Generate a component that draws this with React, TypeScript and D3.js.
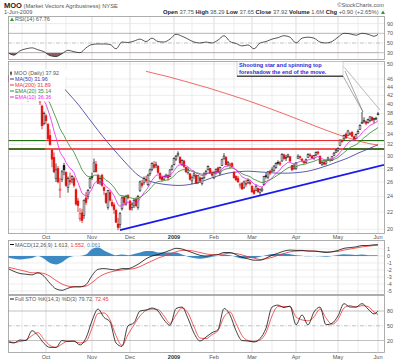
import React from "react";
import * as d3 from "d3";

// ---------- DATA ----------
// trading days: index 0 = 4-Sep-2008 ... index 185 = 1-Jun-2009
const monthTicks = [
  { day: 19, label: "Oct", bold: false },
  { day: 42, label: "Nov", bold: false },
  { day: 61, label: "Dec", bold: false },
  { day: 83, label: "2009", bold: true },
  { day: 103, label: "Feb", bold: false },
  { day: 122, label: "Mar", bold: false },
  { day: 144, label: "Apr", bold: false },
  { day: 165, label: "May", bold: false },
  { day: 185, label: "Jun", bold: false },
];
const midMonthDays = [7, 29, 52, 71, 92, 113, 132, 153, 175];

const opens = [
  46.8, 45.0, 47.0, 46.6, 45.0, 44.6, 45.5, 45.2, 42.5, 43.4, 41.5, 45.5, 45.4, 44.0, 42.2, 41.5, 41.0, 39.6, 36.0,
  37.5, 35.8, 33.6, 31.0, 29.8, 26.5, 28.0, 24.8, 26.4, 28.5, 27.4, 25.2, 26.2, 26.4, 26.5, 24.9, 23.4, 21.2, 21.9, 21.6, 23.8, 24.0, 25.2,
  26.8, 27.6, 28.7, 27.0, 26.0, 27.0, 25.2, 24.4, 22.6, 24.5, 23.2, 22.9, 22.2, 20.6, 20.5, 22.4, 23.9, 23.0, 24.1,
  23.4, 22.6, 22.8, 23.6, 22.6, 24.8, 25.8, 25.9, 26.4, 25.6, 27.2, 27.9, 28.6, 28.5, 28.4, 27.3, 26.7, 26.4, 26.8, 27.0, 26.8, 27.9,
  28.6, 29.5, 30.2, 29.8, 28.6, 29.2, 28.2, 27.4, 27.2, 26.2, 26.9, 27.0, 25.9, 26.6, 25.8, 26.6, 27.3, 27.9, 28.0, 27.4,
  26.6, 27.5, 28.1, 27.3, 28.5, 29.6, 29.8, 28.7, 28.5, 28.8, 27.4, 26.8, 26.5, 25.5, 25.8, 25.2, 25.8, 25.9, 25.9,
  25.4, 24.8, 24.8, 25.1, 24.5, 24.8, 25.6, 26.9, 26.7, 27.6, 27.6, 27.7, 28.2, 29.0, 28.9, 29.2, 30.2, 29.7, 29.9, 29.9, 28.5, 28.0,
  28.0, 29.6, 29.9, 29.5, 29.1, 29.0, 29.8, 30.2, 30.0, 29.6, 30.2, 30.7, 30.0, 28.7, 29.0, 28.8, 29.4, 29.3, 29.3, 30.1, 30.6,
  31.0, 31.8, 32.7, 33.0, 33.9, 33.6, 34.0, 34.2, 33.4, 33.1, 34.0, 34.8, 36.0, 36.4, 36.3, 36.2, 36.5, 37.2, 36.7, 37.0, 37.75,
];
const highs = [
  47.2, 46.5, 47.8, 46.9, 45.8, 46.2, 46.8, 45.6, 44.2, 43.6, 43.8, 46.5, 45.6, 44.3, 42.6, 42.5, 41.5, 39.9, 38.4,
  37.8, 36.0, 34.8, 31.2, 30.6, 28.8, 28.4, 26.6, 27.8, 28.9, 27.6, 26.8, 27.4, 27.0, 26.8, 25.1, 23.8, 22.5, 22.4, 23.6, 24.6, 25.0, 26.7,
  27.4, 29.6, 29.2, 27.2, 26.7, 27.2, 25.4, 24.5, 24.9, 24.8, 23.6, 23.2, 22.4, 21.3, 22.0, 24.0, 24.1, 24.2, 24.3,
  23.5, 23.2, 23.7, 23.9, 24.2, 26.2, 26.3, 26.8, 26.9, 27.2, 28.0, 29.0, 29.2, 29.1, 28.5, 27.4, 26.9, 26.9, 27.2, 27.1, 27.9, 28.6,
  29.8, 30.2, 30.8, 30.0, 29.5, 29.4, 28.3, 28.2, 27.3, 26.9, 27.5, 27.1, 27.0, 26.8, 26.7, 27.4, 27.8, 28.5, 28.1, 27.7,
  27.6, 28.0, 28.3, 28.3, 29.6, 30.5, 30.0, 29.2, 28.9, 29.0, 27.6, 27.0, 26.9, 25.9, 26.0, 26.2, 26.3, 26.5, 26.3,
  25.5, 25.1, 25.6, 25.2, 25.1, 25.3, 26.9, 27.3, 27.6, 27.8, 28.2, 28.5, 29.0, 29.3, 29.2, 30.5, 30.4, 30.2, 30.4, 30.0, 28.6, 28.8,
  29.0, 30.3, 30.1, 29.7, 29.3, 29.6, 30.5, 30.5, 30.2, 30.2, 30.8, 30.9, 30.1, 29.2, 29.4, 29.3, 29.9, 29.6, 30.0, 30.7, 31.2,
  31.5, 32.9, 33.0, 33.8, 34.2, 34.7, 34.3, 34.5, 33.6, 34.0, 34.8, 35.8, 38.3, 37.2, 36.5, 36.9, 37.4, 37.4, 37.1, 37.3, 38.29,
];
const lows = [
  45.2, 44.6, 46.2, 44.5, 44.2, 44.0, 45.1, 43.0, 42.0, 40.8, 40.5, 44.6, 43.6, 41.8, 40.9, 41.0, 39.8, 34.8, 35.6,
  35.8, 32.8, 31.8, 28.2, 27.3, 26.0, 25.8, 23.8, 26.0, 27.0, 25.3, 24.5, 25.6, 25.8, 25.2, 22.8, 22.0, 20.9, 20.7, 21.2, 22.9, 23.6, 25.0,
  26.3, 27.4, 27.4, 25.7, 25.6, 25.3, 24.2, 23.0, 22.3, 23.3, 22.6, 21.8, 20.7, 19.9, 20.1, 22.2, 22.8, 22.8, 23.6,
  22.2, 22.2, 22.5, 22.6, 22.3, 24.6, 25.2, 25.6, 25.9, 25.4, 26.9, 27.6, 28.0, 28.1, 27.2, 26.3, 26.1, 26.3, 26.6, 26.2, 26.7, 27.7,
  28.5, 29.2, 29.9, 28.7, 28.4, 28.1, 27.3, 27.1, 26.2, 25.7, 26.5, 25.7, 25.7, 25.9, 25.5, 26.4, 27.0, 27.7, 27.2, 26.8,
  26.4, 27.1, 27.4, 27.0, 28.4, 29.4, 28.5, 28.3, 28.0, 28.1, 26.5, 26.1, 25.9, 25.1, 24.9, 25.0, 25.3, 25.7, 25.5,
  24.5, 24.2, 24.7, 24.5, 24.2, 24.6, 25.5, 26.5, 26.4, 27.0, 27.5, 27.5, 28.0, 28.6, 28.4, 29.1, 29.4, 29.2, 29.7, 29.0, 27.6, 27.8,
  27.8, 29.5, 29.4, 29.0, 28.7, 28.8, 29.7, 29.8, 29.5, 29.4, 30.0, 30.2, 28.7, 28.4, 28.5, 28.5, 29.2, 29.0, 29.2, 30.0, 30.5,
  30.7, 31.7, 32.3, 32.8, 33.0, 33.5, 33.6, 33.3, 32.8, 33.0, 33.9, 34.7, 35.9, 36.0, 35.6, 35.9, 36.2, 36.4, 36.0, 36.6, 37.65,
];
const closes = [
  45.5, 46.2, 47.0, 44.8, 45.3, 45.9, 46.5, 43.2, 43.8, 41.0, 43.5, 45.8, 43.9, 42.0, 41.2, 41.8, 40.5, 35.5, 38.0,
  36.5, 33.0, 32.0, 29.5, 27.5, 27.8, 26.0, 25.0, 27.5, 27.8, 25.5, 26.5, 26.0, 26.8, 25.5, 23.0, 22.8, 21.8, 21.0, 23.5, 23.2, 24.8, 26.5,
  26.8, 28.9, 27.5, 25.8, 26.5, 25.5, 24.8, 23.2, 24.8, 23.5, 22.8, 22.3, 20.8, 20.2, 21.8, 23.8, 23.2, 24.0, 23.8,
  22.3, 23.0, 23.5, 22.8, 24.0, 26.0, 25.5, 26.5, 26.2, 27.0, 27.8, 28.8, 28.2, 28.6, 27.4, 26.5, 26.3, 26.8, 27.0, 26.6, 27.8, 28.4,
  29.6, 30.0, 30.4, 28.9, 29.3, 28.3, 27.5, 27.8, 26.4, 26.6, 27.2, 25.8, 26.9, 26.2, 26.5, 27.2, 27.6, 28.3, 27.3, 27.0,
  27.4, 27.9, 27.5, 28.2, 29.4, 30.0, 28.6, 29.0, 28.7, 28.3, 26.6, 26.3, 26.0, 25.6, 25.0, 26.0, 25.7, 26.2, 25.8,
  24.6, 24.4, 25.4, 24.6, 24.9, 25.0, 26.8, 26.9, 27.5, 27.3, 27.8, 28.4, 28.8, 29.0, 28.7, 30.3, 29.6, 29.8, 30.2, 29.2, 27.8, 28.4,
  28.9, 30.0, 29.8, 29.3, 28.9, 29.4, 30.3, 30.1, 29.7, 30.1, 30.6, 30.5, 28.8, 29.0, 28.7, 29.2, 29.7, 29.4, 29.9, 30.5, 30.9,
  31.3, 32.8, 32.5, 33.6, 33.2, 34.5, 33.9, 33.5, 33.0, 33.8, 34.4, 35.6, 36.2, 36.6, 36.0, 36.8, 37.3, 36.6, 37.0, 37.02, 37.92,
];

const ma50Days = [20, 25, 30, 35, 40, 45, 50, 55, 60, 65, 70, 75, 80, 85, 90, 95, 100, 105, 110, 115, 120, 125, 130, 135, 140, 145, 150, 155, 160, 165, 170, 175, 180, 185];
const ma50Vals = [47.5, 45.2, 42.6, 40.0, 37.2, 34.6, 32.3, 30.3, 28.5, 27.0, 26.2, 25.8, 25.6, 25.5, 25.6, 25.9, 26.4, 26.9, 27.3, 27.5, 27.6, 27.5, 27.4, 27.3, 27.3, 27.4, 27.6, 28.0, 28.5, 29.1, 29.7, 30.5, 31.2, 31.96];
const ma200Days = [69, 80, 90, 100, 110, 120, 130, 140, 150, 160, 170, 180, 185];
const ma200Vals = [48.0, 46.6, 45.2, 43.8, 42.3, 40.8, 39.2, 37.6, 36.0, 34.5, 33.2, 32.2, 31.89];

// horizontal support lines and trend line
const supportLevels = [32.7, 31.2];
const trendDays = [56, 188];
const trendPrices = [19.9, 28.6];

// indicator samples (every 3rd trading day, last = 1-Jun)
const indDays = [0, 3, 6, 9, 12, 15, 18, 21, 24, 27, 30, 33, 36, 39, 42, 45, 48, 51, 54, 57, 60, 63, 66, 69, 72, 75, 78, 81, 84, 87, 90, 93, 96, 99, 102, 105, 108, 111, 114, 117, 120, 123, 126, 129, 132, 135, 138, 141, 144, 147, 150, 153, 156, 159, 162, 165, 168, 171, 174, 177, 180, 183, 185];
const rsiVals = [30, 25, 34, 38, 40, 36, 32, 24, 22, 28, 35, 32, 30, 40, 47, 48, 48, 47, 38, 52, 51, 54, 58, 53, 60, 53, 52, 58, 68, 64, 58, 52, 50, 52, 50, 56, 65, 53, 49, 44, 46, 38, 50, 53, 58, 61, 65, 62, 50, 60, 62, 60, 52, 50, 53, 62, 70, 69, 66, 70, 68, 64, 67.76];
const macdVals = [-1.8, -2.2, -2.5, -2.6, -2.7, -2.4, -2.9, -3.9, -4.7, -4.9, -4.6, -4.4, -4.4, -4.1, -2.8, -1.9, -1.8, -1.9, -2.0, -1.8, -1.8, -1.5, -1.0, -0.4, 0.0, 0.2, 0.5, 0.8, 1.1, 1.0, 0.7, 0.4, 0.1, 0.0, 0.1, 0.2, 0.5, 0.5, 0.2, -0.2, -0.4, -0.6, -0.6, -0.3, 0.1, 0.4, 0.7, 0.85, 0.8, 0.8, 0.7, 0.7, 0.6, 0.5, 0.6, 0.8, 1.1, 1.2, 1.3, 1.5, 1.5, 1.6, 1.613];
const signalVals = [-1.6, -1.8, -2.0, -2.2, -2.4, -2.4, -2.5, -2.9, -3.5, -4.0, -4.3, -4.4, -4.4, -4.3, -3.8, -3.1, -2.6, -2.3, -2.1, -2.0, -1.9, -1.8, -1.5, -1.1, -0.7, -0.3, 0.0, 0.3, 0.6, 0.8, 0.8, 0.7, 0.5, 0.3, 0.2, 0.2, 0.3, 0.4, 0.35, 0.15, -0.1, -0.3, -0.5, -0.4, -0.2, 0.1, 0.35, 0.6, 0.7, 0.75, 0.75, 0.7, 0.65, 0.6, 0.6, 0.65, 0.85, 1.0, 1.15, 1.3, 1.4, 1.5, 1.552];
const stoKVals = [17, 15, 21, 20, 40, 30, 14, 6, 6, 20, 18, 19, 11, 25, 60, 84, 67, 58, 15, 8, 50, 56, 80, 82, 86, 80, 62, 51, 85, 88, 65, 35, 19, 27, 36, 42, 85, 72, 40, 20, 19, 17, 24, 45, 88, 92, 87, 90, 52, 72, 52, 78, 88, 52, 55, 70, 95, 88, 88, 95, 84, 74, 79.72];
const stoDVals = [20, 16, 18, 21, 30, 36, 22, 10, 6, 13, 19, 18, 15, 18, 45, 75, 76, 62, 30, 10, 32, 52, 70, 81, 84, 83, 70, 55, 72, 86, 76, 48, 25, 24, 32, 40, 68, 78, 55, 30, 20, 18, 21, 36, 70, 89, 89, 89, 68, 62, 60, 68, 84, 66, 53, 63, 86, 91, 88, 91, 89, 78, 72.45];

const priceTicks = [50, 46, 44, 42, 40, 38, 36, 34, 32, 30, 28, 26, 24, 22, 20];
const rsiTicks = [90, 70, 50, 30];
const macdTicks = [1, 0, -1, -2, -3, -4, -5];
const stoTicks = [80, 50, 20];

// ---------- LAYOUT ----------
const FONT = "'Liberation Sans', Arial, Helvetica, sans-serif";
const L = 8, R = 384;
const RSI_T = 16, RSI_B = 59;
const MAIN_T = 61, MAIN_B = 233;
const MACD_T = 240, MACD_B = 294;
const STO_T = 295, STO_B = 352;

const x = d3.scaleLinear().domain([0, 188]).range([8, 384]);
const yP = d3.scaleLog().domain([20, 46]).range([229.3, 79]);
const yRsi = d3.scaleLinear().domain([30, 70]).range([52.7, 33.3]);
const yMacd = d3.scaleLinear().domain([0, -5]).range([256, 291]);
const ySto = d3.scaleLinear().domain([20, 80]).range([340.5, 311]);

function ema(arr: number[], n: number) {
  const k = 2 / (n + 1);
  const out: number[] = [];
  arr.forEach((v, i) => out.push(i === 0 ? v : v * k + out[i - 1] * (1 - k)));
  return out;
}

const GRID = "#e2e2e2";
const FRAME = "#9a9a9a";
const TXT = "#555";

function Panel({ top, bottom }: { top: number; bottom: number }) {
  return (
    <g>
      {monthTicks.map((t) => (
        <line key={"m" + t.day} x1={x(t.day)} x2={x(t.day)} y1={top} y2={bottom} stroke="#d0d0d0" strokeWidth={0.7} />
      ))}
      {midMonthDays.map((d) => (
        <line key={"d" + d} x1={x(d)} x2={x(d)} y1={top} y2={bottom} stroke={GRID} strokeWidth={0.6} />
      ))}
    </g>
  );
}

function Frame({ top, bottom }: { top: number; bottom: number }) {
  return <rect x={L + 0.5} y={top + 0.5} width={R - L} height={bottom - top} fill="none" stroke={FRAME} strokeWidth={0.8} />;
}

function XLabels({ y }: { y: number }) {
  return (
    <g fontFamily={FONT} fontSize={5.6} fill={TXT} textAnchor="middle">
      {monthTicks.map((t) => (
        <text key={t.day} x={x(t.day)} y={y} fontWeight={t.bold ? "bold" : "normal"} fill={t.bold ? "#333" : TXT}>
          {t.label}
        </text>
      ))}
    </g>
  );
}

export default function App() {
  const ema10 = ema(closes, 10);
  const ema20 = ema(closes, 20);

  const priceLine = d3
    .line<number>()
    .x((_, i) => x(i))
    .y((v) => yP(v));
  const sampledLine = (days: number[], ys: (v: number) => number) =>
    d3
      .line<number>()
      .x((_, i) => x(days[i]))
      .y((v) => ys(v))
      .curve(d3.curveMonotoneX);

  const rsiLine = sampledLine(indDays, yRsi);
  const rsiArea30 = d3
    .area<number>()
    .x((_, i) => x(indDays[i]))
    .y0(yRsi(30))
    .y1((v) => yRsi(v))
    .curve(d3.curveMonotoneX);
  const rsiArea70 = d3
    .area<number>()
    .x((_, i) => x(indDays[i]))
    .y0(yRsi(70))
    .y1((v) => yRsi(v))
    .curve(d3.curveMonotoneX);

  const hist = macdVals.map((m, i) => m - signalVals[i]);
  const histArea = d3
    .area<number>()
    .x((_, i) => x(indDays[i]))
    .y0(yMacd(0))
    .y1((v) => yMacd(v))
    .curve(d3.curveMonotoneX);

  const macdLine = sampledLine(indDays, yMacd);
  const stoLine = sampledLine(indDays, ySto);

  const ma50Line = sampledLine(ma50Days, yP);
  const ma200Line = sampledLine(ma200Days, yP);

  const candles = closes.map((c, i) => {
    const o = opens[i];
    const h = Math.max(highs[i], o, c);
    const l = Math.min(lows[i], o, c);
    const prev = i === 0 ? o : closes[i - 1];
    const color = c >= prev ? "#111" : "#e41010";
    const hollow = c > o;
    const yTop = yP(Math.max(o, c));
    const yBot = yP(Math.min(o, c));
    const cx = x(i);
    return (
      <g key={i}>
        <line x1={cx} x2={cx} y1={yP(h)} y2={yP(l)} stroke={color} strokeWidth={0.8} />
        <rect
          x={cx - 0.9}
          y={yTop}
          width={1.8}
          height={Math.max(0.9, yBot - yTop)}
          fill={hollow ? "#fff" : color}
          stroke={color}
          strokeWidth={0.55}
        />
      </g>
    );
  });

  const legend = [
    { label: "MA(50) 31.96", color: "#333399" },
    { label: "MA(200) 31.89", color: "#ee3333" },
    { label: "EMA(20) 35.14", color: "#338833" },
    { label: "EMA(10) 36.36", color: "#ee22ee" },
  ];

  return (
    <svg
      width={400}
      height={363}
      viewBox="0 0 400 363"
      style={{ position: "absolute", left: 0, top: 0, background: "#fff" }}
      fontFamily={FONT}
    >
      <defs>
        <clipPath id="mainClip">
          <rect x={L} y={MAIN_T} width={R - L} height={MAIN_B - MAIN_T} />
        </clipPath>
        <clipPath id="rsiLow">
          <rect x={L} y={yRsi(30)} width={R - L} height={RSI_B - yRsi(30)} />
        </clipPath>
        <clipPath id="rsiHigh">
          <rect x={L} y={RSI_T} width={R - L} height={yRsi(70) - RSI_T} />
        </clipPath>
        <clipPath id="macdClip">
          <rect x={L} y={MACD_T} width={R - L} height={MACD_B - MACD_T} />
        </clipPath>
      </defs>
      <rect width={400} height={363} fill="#fff" />

      {/* header */}
      <text x={4} y={7.5} fontSize={7.5} fontWeight="bold" fill="#222">
        MOO
        <tspan fontSize={5.8} fontWeight="normal" fill={TXT}> (Market Vectors Agribusiness) NYSE</tspan>
      </text>
      <text x={4} y={14} fontSize={5.6} fill={TXT}>1-Jun-2009</text>
      <text x={384} y={6.5} fontSize={5.6} fill={TXT} textAnchor="end">©StockCharts.com</text>
      <text x={163} y={14} fontSize={5.8} fill={TXT}>
        <tspan fontWeight="bold" fill="#222">Open</tspan> 37.75{" "}
        <tspan fontWeight="bold" fill="#222">High</tspan> 38.29{" "}
        <tspan fontWeight="bold" fill="#222">Low</tspan> 37.65{" "}
        <tspan fontWeight="bold" fill="#222">Close</tspan> 37.92{" "}
        <tspan fontWeight="bold" fill="#222">Volume</tspan> 1.6M{" "}
        <tspan fontWeight="bold" fill="#222">Chg</tspan> +0.90 (+2.65%)
      </text>
      <path d="M381,14 l2,-3.5 l2,3.5 z" fill="#2a9a2a" />

      {/* RSI panel */}
      <Panel top={RSI_T} bottom={RSI_B} />
      {rsiTicks.map((t) => (
        <line
          key={t}
          x1={L}
          x2={R}
          y1={yRsi(t)}
          y2={yRsi(t)}
          stroke={t === 90 ? GRID : "#a8a8a8"}
          strokeWidth={0.7}
          strokeDasharray={t === 50 ? "4,1.5,1,1.5" : undefined}
        />
      ))}
      <path d={rsiArea30(rsiVals) || ""} fill="#8d5f5f" clipPath="url(#rsiLow)" />
      <path d={rsiArea70(rsiVals) || ""} fill="#6f9a6f" clipPath="url(#rsiHigh)" />
      <path d={rsiLine(rsiVals) || ""} fill="none" stroke="#111" strokeWidth={0.7} />
      <Frame top={RSI_T} bottom={RSI_B} />
      <path d="M10,21 l2,-3.5 l2,3.5 z" fill="#2a9a2a" />
      <text x={15} y={21} fontSize={5.6} fill={TXT}>RSI(14) 67.76</text>
      {rsiTicks.map((t) => (
        <text key={t} x={387} y={yRsi(t) + 2} fontSize={5.4} fill={TXT}>{t}</text>
      ))}

      {/* main price panel */}
      <Panel top={MAIN_T} bottom={MAIN_B} />
      {priceTicks.map((t) => (
        <line key={t} x1={L} x2={R} y1={yP(t)} y2={yP(t)} stroke={GRID} strokeWidth={0.6} />
      ))}
      <g clipPath="url(#mainClip)">
        {supportLevels.map((lv, k) => (
          <g key={lv}>
            <line x1={L} x2={R} y1={yP(lv)} y2={yP(lv)} stroke="#ee1c1c" strokeWidth={k === 0 ? 1 : 1.6} />
            <line x1={L} x2={45} y1={yP(lv)} y2={yP(lv)} stroke="#117711" strokeWidth={k === 0 ? 1 : 1.6} />
            <line x1={343} x2={R} y1={yP(lv)} y2={yP(lv)} stroke="#117711" strokeWidth={k === 0 ? 1 : 1.6} />
          </g>
        ))}
        <path d={ma200Line(ma200Vals) || ""} fill="none" stroke="#ee4444" strokeWidth={0.8} />
        <path d={ma50Line(ma50Vals) || ""} fill="none" stroke="#333399" strokeWidth={0.8} />
        {candles}
        <path d={priceLine(ema20) || ""} fill="none" stroke="#338833" strokeWidth={0.8} />
        <path d={priceLine(ema10) || ""} fill="none" stroke="#ee22ee" strokeWidth={0.8} />
        <line
          x1={x(trendDays[0])}
          x2={x(trendDays[1])}
          y1={yP(trendPrices[0])}
          y2={yP(trendPrices[1])}
          stroke="#1a1aee"
          strokeWidth={1.8}
        />
      </g>
      <Frame top={MAIN_T} bottom={MAIN_B} />
      {priceTicks.map((t) => (
        <text key={t} x={387} y={yP(t) + 2} fontSize={5.4} fill={TXT}>{t}</text>
      ))}

      {/* legend */}
      <rect x={9} y={69.5} width={56} height={32} fill="#fff" />
      <rect x={9} y={69.5} width={62} height={6.5} fill="#fff" />
      <g fontSize={5.4}>
        <line x1={11} x2={11} y1={71} y2={75.5} stroke="#333" strokeWidth={0.6} />
        <rect x={10.3} y={72} width={1.4} height={2.5} fill="#333" />
        <text x={14} y={75} fill={TXT}>MOO (Daily) 37.92</text>
        {legend.map((it, k) => (
          <g key={it.label}>
            <line x1={10} x2={14} y1={79 + k * 6} y2={79 + k * 6} stroke={it.color} strokeWidth={1} />
            <text x={15} y={81 + k * 6} fill={it.color}>{it.label}</text>
          </g>
        ))}
      </g>

      {/* annotation */}
      <g>
        <line x1={343} y1={76} x2={363} y2={112} stroke="#555" strokeWidth={0.5} />
        <line x1={345} y1={71} x2={363} y2={112} stroke="#555" strokeWidth={0.5} />
        <line x1={343} y1={66} x2={380} y2={110} stroke="#aaa" strokeWidth={0.5} />
        <line x1={345} y1={68} x2={380} y2={110} stroke="#aaa" strokeWidth={0.5} />
        <rect x={237} y={61.5} width={106} height={14.5} fill="#fff" stroke="#aaa" strokeWidth={0.5} />
        <line x1={237} x2={343} y1={76.2} y2={76.2} stroke="#000" strokeWidth={1} />
        <text x={239} y={67.3} fontSize={5.6} fontWeight="bold" fill="#2a2ad8">Shooting star and spinning top</text>
        <text x={239} y={74} fontSize={5.6} fontWeight="bold" fill="#2a2ad8">foreshadow the end of the move.</text>
      </g>

      <XLabels y={238.5} />

      {/* MACD panel */}
      <Panel top={MACD_T} bottom={MACD_B} />
      {macdTicks.map((t) => (
        <line key={t} x1={L} x2={R} y1={yMacd(t)} y2={yMacd(t)} stroke={GRID} strokeWidth={0.6} />
      ))}
      <g clipPath="url(#macdClip)">
        <path d={histArea(hist) || ""} fill="#3c8ac4" />
        <path d={macdLine(signalVals) || ""} fill="none" stroke="#ee3333" strokeWidth={0.8} />
        <path d={macdLine(macdVals) || ""} fill="none" stroke="#111" strokeWidth={0.8} />
      </g>
      <Frame top={MACD_T} bottom={MACD_B} />
      <line x1={10} x2={14} y1={244.5} y2={244.5} stroke="#111" strokeWidth={1} />
      <text x={15} y={246.5} fontSize={5.4} fill={TXT}>
        MACD(12,26,9) 1.613, <tspan fill="#ee3333">1.552</tspan>, <tspan fill="#3c8ac4">0.061</tspan>
      </text>
      {macdTicks.map((t) => (
        <text key={t} x={387} y={yMacd(t) + 2} fontSize={5.4} fill={TXT}>{t}</text>
      ))}

      {/* Full STO panel */}
      <Panel top={STO_T} bottom={STO_B} />
      {stoTicks.map((t) => (
        <line
          key={t}
          x1={L}
          x2={R}
          y1={ySto(t)}
          y2={ySto(t)}
          stroke="#a8a8a8"
          strokeWidth={0.7}
          strokeDasharray={t === 50 ? "4,1.5,1,1.5" : undefined}
        />
      ))}
      <path d={stoLine(stoDVals) || ""} fill="none" stroke="#ee3333" strokeWidth={0.8} />
      <path d={stoLine(stoKVals) || ""} fill="none" stroke="#111" strokeWidth={0.8} />
      <Frame top={STO_T} bottom={STO_B} />
      <line x1={10} x2={14} y1={299} y2={299} stroke="#111" strokeWidth={1} />
      <text x={15} y={301} fontSize={5.4} fill={TXT}>
        Full STO %K(14,3) %D(3) 79.72, <tspan fill="#ee3333">72.45</tspan>
      </text>
      {stoTicks.map((t) => (
        <text key={t} x={387} y={ySto(t) + 2} fontSize={5.4} fill={TXT}>{t}</text>
      ))}
      <XLabels y={359} />
    </svg>
  );
}
